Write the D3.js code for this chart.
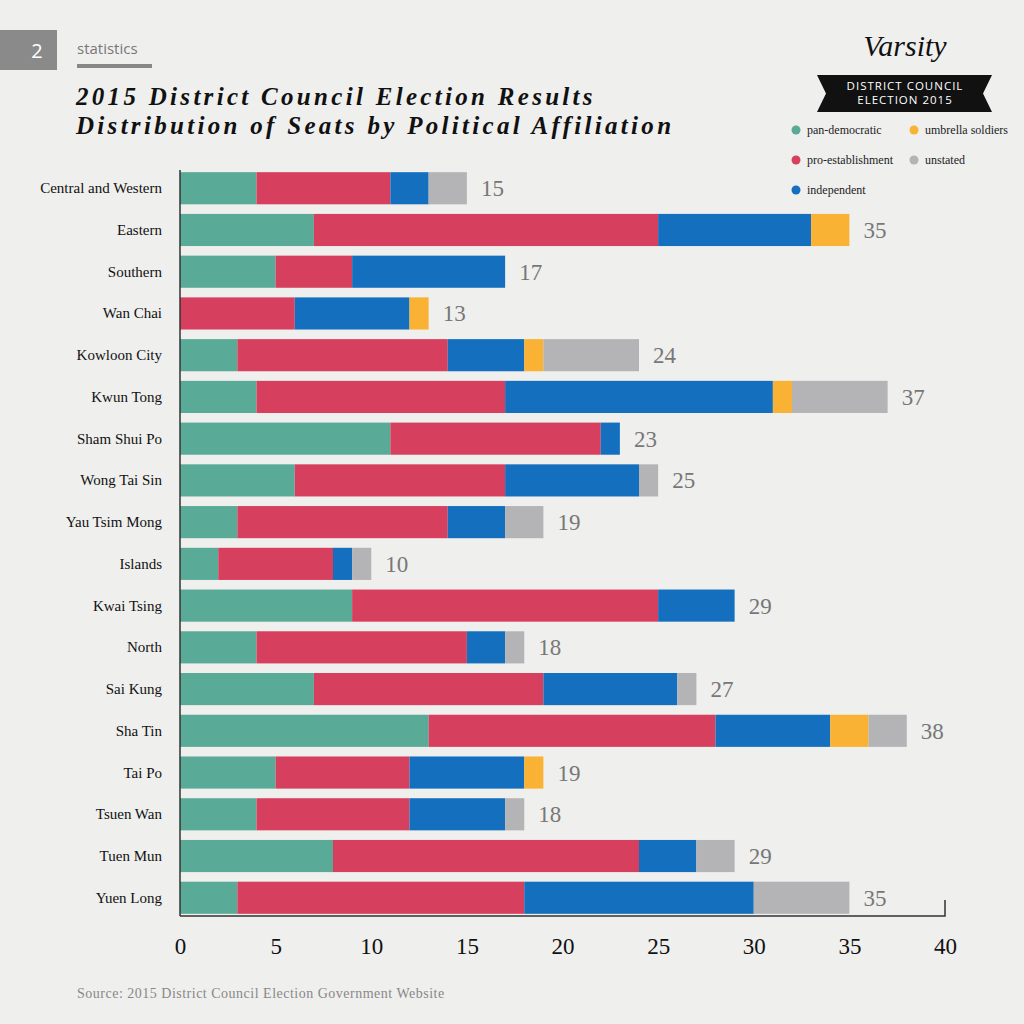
<!DOCTYPE html>
<html><head><meta charset="utf-8">
<script src="https://cdn.jsdelivr.net/npm/d3@7"></script>
<style>body{margin:0;background:#efefee}svg{display:block}</style>
</head><body><svg width="1024" height="1024"></svg>
<script>
const districts = ["Central and Western","Eastern","Southern","Wan Chai","Kowloon City","Kwun Tong","Sham Shui Po","Wong Tai Sin","Yau Tsim Mong","Islands","Kwai Tsing","North","Sai Kung","Sha Tin","Tai Po","Tsuen Wan","Tuen Mun","Yuen Long"];
const panDemocratic    = [4,7,5,0,3,4,11,6,3,2,9,4,7,13,5,4,8,3];
const proEstablishment = [7,18,4,6,11,13,11,11,11,6,16,11,12,15,7,8,16,15];
const independent      = [2,8,8,6,4,14,1,7,3,1,4,2,7,6,6,5,3,12];
const umbrella         = [0,2,0,1,1,1,0,0,0,0,0,0,0,2,1,0,0,0];
const unstated         = [2,0,0,0,5,5,0,1,2,1,0,1,1,2,0,1,2,5];
const xTicks = [0,5,10,15,20,25,30,35,40];

const keys = ["pan","pro","ind","umb","uns"];
const colors = {pan:"#5aaa98",pro:"#d6405e",ind:"#1470bf",umb:"#f9b233",uns:"#b4b3b6"};
const rows = districts.map((d,i)=>({name:d,pan:panDemocratic[i],pro:proEstablishment[i],ind:independent[i],umb:umbrella[i],uns:unstated[i]}));
const stack = d3.stack().keys(keys)(rows);

const svg = d3.select("svg");
const serif = "'Liberation Serif','DejaVu Serif',serif";
const x = d3.scaleLinear().domain([0,40]).range([180,945]);
const y = d3.scaleBand().domain(districts).range([168,918]).paddingInner(0.23).paddingOuter(0.1);

// header
svg.append("rect").attr("x",0).attr("y",30).attr("width",57).attr("height",40).attr("fill","#8a8a8a");
svg.append("text").attr("x",37).attr("y",58).attr("text-anchor","middle").attr("fill","#fff").attr("font-family","Open Sans").attr("font-size",20).text("2");
svg.append("text").attr("x",77).attr("y",54).attr("fill","#777").attr("font-family","Open Sans").attr("font-size",15).text("statistics");
svg.append("rect").attr("x",77).attr("y",64).attr("width",75).attr("height",4).attr("fill","#888");
svg.append("text").attr("x",76).attr("y",105).attr("font-family",serif).attr("font-style","italic").attr("font-weight","bold").attr("font-size",25).attr("fill","#111").attr("letter-spacing",3.3).text("2015 District Council Election Results");
svg.append("text").attr("x",76).attr("y",134).attr("font-family",serif).attr("font-style","italic").attr("font-weight","bold").attr("font-size",25).attr("fill","#111").attr("letter-spacing",3.3).text("Distribution of Seats by Political Affiliation");

svg.append("text").attr("x",905).attr("y",56).attr("text-anchor","middle").attr("font-family",serif).attr("font-style","italic").attr("font-size",30).attr("fill","#111").text("Varsity");
svg.append("path").attr("d","M817,75 L992,75 L983,93.5 L992,112 L817,112 L826,93.5 Z").attr("fill","#111");
svg.append("text").attr("x",905).attr("y",90).attr("text-anchor","middle").attr("fill","#fff").attr("font-family","Open Sans").attr("font-size",11.5).attr("letter-spacing",1).text("DISTRICT COUNCIL");
svg.append("text").attr("x",905).attr("y",104).attr("text-anchor","middle").attr("fill","#fff").attr("font-family","Open Sans").attr("font-size",11.5).attr("letter-spacing",1).text("ELECTION 2015");

const legend = [["pan","pan-democratic",796,130],["umb","umbrella soldiers",914,130],["pro","pro-establishment",796,160],["uns","unstated",914,160],["ind","independent",796,190]];
legend.forEach(([k,t,lx,ly])=>{
  svg.append("circle").attr("cx",lx).attr("cy",ly).attr("r",4.5).attr("fill",colors[k]);
  svg.append("text").attr("x",lx+11).attr("y",ly+4).attr("font-family",serif).attr("font-size",12).attr("fill","#222").text(t);
});

// bars
svg.append("g").selectAll("g").data(stack).join("g").attr("fill",d=>colors[d.key])
  .selectAll("rect").data(d=>d).join("rect")
  .attr("x",d=>x(d[0])).attr("width",d=>x(d[1])-x(d[0]))
  .attr("y",d=>y(d.data.name)).attr("height",y.bandwidth());

// totals
svg.append("g").selectAll("text").data(rows).join("text")
  .attr("x",d=>x(d.pan+d.pro+d.ind+d.umb+d.uns)+14)
  .attr("y",d=>y(d.name)+y.bandwidth()/2+8)
  .attr("font-family",serif).attr("font-size",23).attr("fill","#777")
  .text(d=>d.pan+d.pro+d.ind+d.umb+d.uns);

// category labels
svg.append("g").selectAll("text").data(districts).join("text")
  .attr("x",162).attr("y",d=>y(d)+y.bandwidth()/2+5).attr("text-anchor","end")
  .attr("font-family",serif).attr("font-size",15).attr("fill","#111").text(d=>d);

// axes
svg.append("line").attr("x1",180).attr("x2",180).attr("y1",170).attr("y2",916).attr("stroke","#333").attr("stroke-width",1.5);
const ax = svg.append("g").attr("transform","translate(0,916)")
  .call(d3.axisBottom(x).tickValues(xTicks).tickSize(0).tickPadding(22));
ax.select(".domain").attr("stroke","#333").attr("stroke-width",1.5).attr("d","M180,0H945V-16");
ax.selectAll("text").attr("font-family",serif).attr("font-size",23).attr("fill","#111");

svg.append("text").attr("x",77).attr("y",998).attr("font-family",serif).attr("font-size",14).attr("fill","#888").attr("letter-spacing",0.5).text("Source: 2015 District Council Election Government Website");
</script></body></html>
